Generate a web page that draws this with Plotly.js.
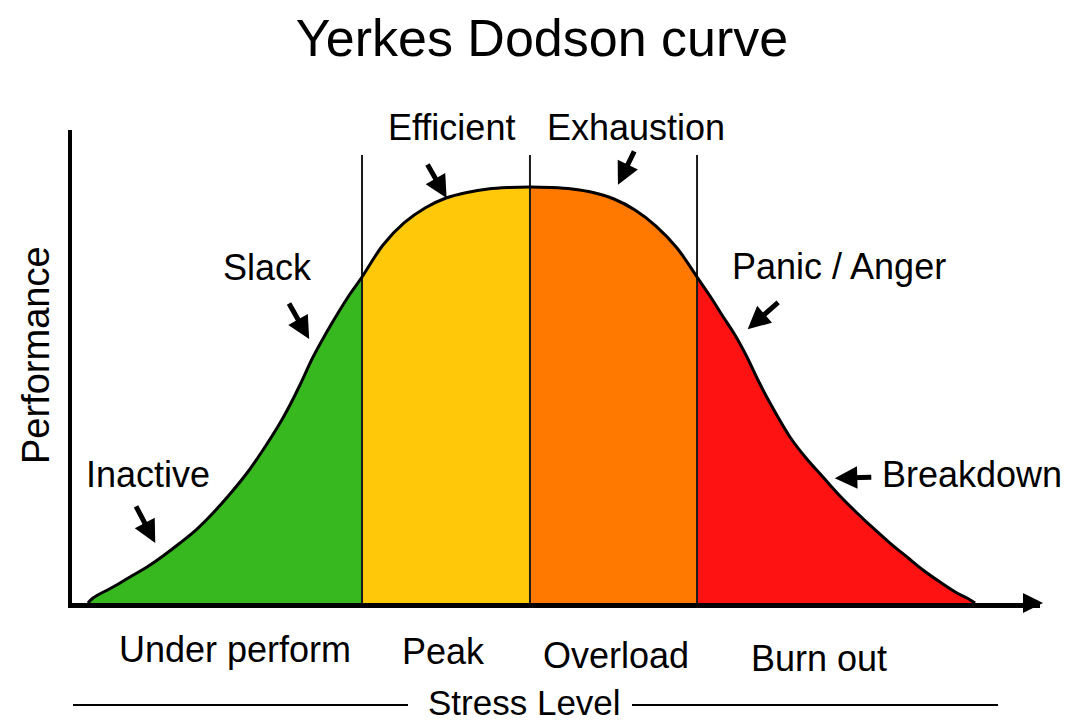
<!DOCTYPE html>
<html>
<head>
<meta charset="utf-8">
<script src="https://cdn.plot.ly/plotly-3.0.1.min.js"></script>
<style>html,body{margin:0;padding:0;background:#fff;}#chart{width:1068px;height:725px;}</style>
</head>
<body>
<div id="chart"></div>
<script>
// ---- data ----
const stress = [1.65, 2.17, 4.24, 5.99, 7.75, 9.40, 11.16, 12.91, 14.57, 16.32, 18.08, 19.73, 21.49, 22.52, 23.55,
  24.90, 26.14, 27.48, 28.72, 29.96, 32.13, 34.30, 36.47, 38.64, 40.81, 42.98, 45.14, 47.31, 49.48, 51.65, 53.82,
  55.99, 58.16, 60.33, 62.50, 64.57, 65.91, 67.15, 68.49, 69.73, 70.76, 72.11, 74.17, 75.83, 77.58, 79.34, 81.10,
  82.75, 84.50, 86.26, 87.91, 89.67, 91.43, 92.46, 93.29];
const performance = [0, 1.06, 3.38, 5.50, 7.61, 9.94, 12.68, 15.64, 19.03, 23.04, 27.48, 32.35, 38.05, 41.86, 46.09,
  52.01, 56.66, 61.31, 65.33, 68.92, 75.69, 80.34, 83.51, 85.62, 86.79, 87.53, 87.84, 87.95, 87.84, 87.53, 86.79,
  85.41, 83.09, 79.70, 75.05, 68.92, 64.90, 60.89, 56.66, 52.01, 47.57, 42.28, 35.10, 30.66, 26.64, 22.62, 19.03,
  15.86, 12.68, 9.73, 6.98, 4.44, 2.11, 1.06, 0];
const zoneEdges = [29.96, 47.31, 64.57];
const zoneNames = ['Under perform', 'Peak', 'Overload', 'Burn out'];
const stageNames = ['Inactive', 'Slack', 'Efficient', 'Exhaustion', 'Panic / Anger', 'Breakdown'];
const stageStress = [8.6, 24.5, 38.7, 56.4, 69.8, 78.8];   // where each arrow points on the curve
const stagePerformance = [12.7, 55.8, 85.6, 88.4, 57.9, 26.4];

// ---- styles / layout helpers ----
const zoneColors = ['#38b81f', '#ffc90a', '#ff7800', '#ff1212'];
const L = 72, R = 28, T = 130, B = 122, W = 1068, H = 725;
const pw = W - L - R, ph = H - T - B;
const px = x => (x - L) / pw;
const py = y => (H - B - y) / ph;
const FONT = 'Liberation Sans, Arial, sans-serif';

const traces = [];
const bounds = [stress[0]].concat(zoneEdges, [stress[stress.length - 1]]);
for (let i = 0; i < 4; i++) {
  const xs = [], ys = [];
  stress.forEach((s, k) => { if (s >= bounds[i] - 1e-9 && s <= bounds[i + 1] + 1e-9) { xs.push(s); ys.push(performance[k]); } });
  traces.push({x: xs, y: ys, type: 'scatter', mode: 'lines', fill: 'tozeroy',
    fillcolor: zoneColors[i], line: {width: 0, shape: 'spline', smoothing: 1, color: zoneColors[i]},
    hoverinfo: 'skip', showlegend: false, name: zoneNames[i]});
}
// zone divider lines
zoneEdges.forEach(e => traces.push({x: [e, e], y: [0, 94.7], type: 'scatter', mode: 'lines',
  line: {color: '#1a1a1a', width: 2}, hoverinfo: 'skip', showlegend: false}));
// curve outline
traces.push({x: stress, y: performance, type: 'scatter', mode: 'lines',
  line: {color: '#000', width: 3, shape: 'spline', smoothing: 1}, hoverinfo: 'skip', showlegend: false});

const annotations = [];
// stage arrows
const arrowTails = [[-20, -38], [-21, -37], [-20, -35], [17, -35], [32, -28], [38, -1]];
stageStress.forEach((s, i) => annotations.push({x: s, y: stagePerformance[i], xref: 'x', yref: 'y', text: '',
  showarrow: true, arrowhead: 2, arrowsize: 0.9, arrowwidth: 5, arrowcolor: '#000', ax: arrowTails[i][0], ay: arrowTails[i][1], standoff: 0}));
// stage labels
const stagePos = [[148, 474], [267, 267], [451, 128], [636, 128], [839, 266], [972, 474]];
stageNames.forEach((n, i) => annotations.push({x: px(stagePos[i][0]), y: py(stagePos[i][1]), xref: 'paper', yref: 'paper',
  text: n, showarrow: false, xanchor: 'center', yanchor: 'middle', font: {family: FONT, size: 36, color: '#000'}}));
// zone labels
const zonePos = [[235, 649], [443, 651], [616, 655], [819, 658]];
zoneNames.forEach((n, i) => annotations.push({x: px(zonePos[i][0]), y: py(zonePos[i][1]), xref: 'paper', yref: 'paper',
  text: n, showarrow: false, xanchor: 'center', yanchor: 'middle', font: {family: FONT, size: 36, color: '#000'}}));
// axis titles
annotations.push({x: px(524), y: py(724), xref: 'paper', yref: 'paper', text: 'Stress Level', showarrow: false,
  xanchor: 'center', yanchor: 'bottom', font: {family: FONT, size: 35, color: '#000'}});
annotations.push({x: px(36), y: py(355), xref: 'paper', yref: 'paper', text: 'Performance', showarrow: false, textangle: -90,
  xanchor: 'center', yanchor: 'middle', font: {family: FONT, size: 38, color: '#000'}});
// x axis arrow head
annotations.push({x: px(1043), y: 0, xref: 'paper', yref: 'paper', ax: -16, ay: 0, text: '', showarrow: true, arrowhead: 2,
  arrowsize: 0.8, arrowwidth: 5, arrowcolor: '#000', standoff: 0});

const shapes = [
  {type: 'line', xref: 'paper', yref: 'paper', x0: px(73), x1: px(408), y0: py(705), y1: py(705), line: {color: '#000', width: 2}},
  {type: 'line', xref: 'paper', yref: 'paper', x0: px(632), x1: px(998), y0: py(705), y1: py(705), line: {color: '#000', width: 2}}
];

const layout = {
  width: W, height: H,
  margin: {l: L, r: R, t: T, b: B, pad: 0},
  paper_bgcolor: '#fff', plot_bgcolor: '#fff',
  title: {text: 'Yerkes Dodson curve', x: 542 / W, xanchor: 'center', y: 1 - 38 / H, yanchor: 'middle', yref: 'container',
    font: {family: FONT, size: 52, color: '#000'}},
  xaxis: {range: [0, 100], showgrid: false, zeroline: false, showticklabels: false, ticks: '',
    showline: true, linecolor: '#000', linewidth: 5, fixedrange: true},
  yaxis: {range: [0, 100], showgrid: false, zeroline: false, showticklabels: false, ticks: '',
    showline: true, linecolor: '#000', linewidth: 4, fixedrange: true},
  showlegend: false,
  annotations: annotations,
  shapes: shapes
};

Plotly.newPlot('chart', traces, layout, {staticPlot: true, displayModeBar: false});
</script>
</body>
</html>
